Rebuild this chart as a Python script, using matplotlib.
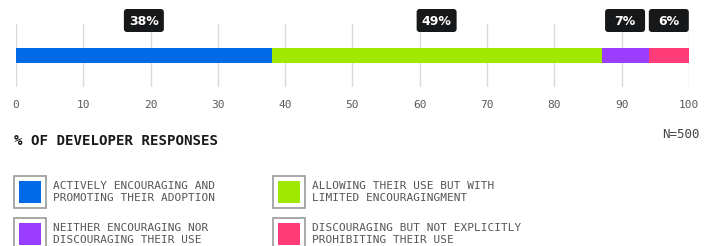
import numpy as np
import matplotlib.pyplot as plt
from matplotlib.patches import FancyBboxPatch, Rectangle

plt.rcParams['font.family'] = ['DejaVu Sans Mono']

# data
categories = ['ACTIVELY ENCOURAGING AND\nPROMOTING THEIR ADOPTION',
              'ALLOWING THEIR USE BUT WITH\nLIMITED ENCOURAGINGMENT',
              'NEITHER ENCOURAGING NOR\nDISCOURAGING THEIR USE',
              'DISCOURAGING BUT NOT EXPLICITLY\nPROHIBITING THEIR USE']
values = [38, 49, 7, 6]
colors = ['#006AE6', '#A0E800', '#9B3DFF', '#FF3B78']
ticks = np.arange(0, 101, 10)

W, H = 717, 246
fig = plt.figure(figsize=(W / 100, H / 100), dpi=100)

# bar axes
ax = fig.add_axes([16 / W, 1 - 87 / H, (689 - 16) / W, 63 / H])
left = np.concatenate([[0], np.cumsum(values)[:-1]])
ax.barh(0, values, left=left, color=colors, height=0.48, zorder=2)
ax.set_xlim(0, 100)
ax.set_ylim(-1, 1)
for t in ticks:
    ax.axvline(t, color='#dadada', lw=1, zorder=1)
for s in ax.spines.values():
    s.set_visible(False)
ax.set_yticks([])
ax.set_xticks(ticks)
ax.tick_params(axis='x', length=0, pad=9, labelsize=8, labelcolor='#5a5a5a')

# overlay in pixel coords
ov = fig.add_axes([0, 0, 1, 1])
ov.set_xlim(0, W)
ov.set_ylim(H, 0)
ov.axis('off')
ov.patch.set_visible(False)

centers = left + np.array(values) / 2
for c, v in zip(centers, values):
    px = ax.transData.transform((c, 0))[0]
    cx = ov.transData.inverted().transform((px, 0))[0]
    box = FancyBboxPatch((cx - 18, 11), 36, 19, boxstyle='round,pad=2,rounding_size=3',
                         facecolor='#17181a', edgecolor='none')
    ov.add_patch(box)
    ov.text(cx, 21.5, f'{v}%', color='white', ha='center', va='center',
            fontsize=9, fontweight='bold', family='DejaVu Sans')

ov.text(14, 141, '% OF DEVELOPER RESPONSES', fontsize=10.2, fontweight='bold',
        va='center', color='#1a1a1a')
ov.text(700, 134, 'N=500', ha='right', va='center', fontsize=9, color='#444444')

# legend
for i, (lab, col) in enumerate(zip(categories, colors)):
    x = [14, 273][i % 2]
    y = [176, 218][i // 2]
    ov.add_patch(Rectangle((x, y), 32, 32, facecolor='white', edgecolor='#9a9a9a', lw=1.2))
    ov.add_patch(Rectangle((x + 5, y + 5), 22, 22, facecolor=col, edgecolor='none'))
    ov.text(x + 39, y + 16, lab, va='center', ha='left', fontsize=8,
            color='#555555', linespacing=1.3)

fig.savefig('out.png', dpi=100)
